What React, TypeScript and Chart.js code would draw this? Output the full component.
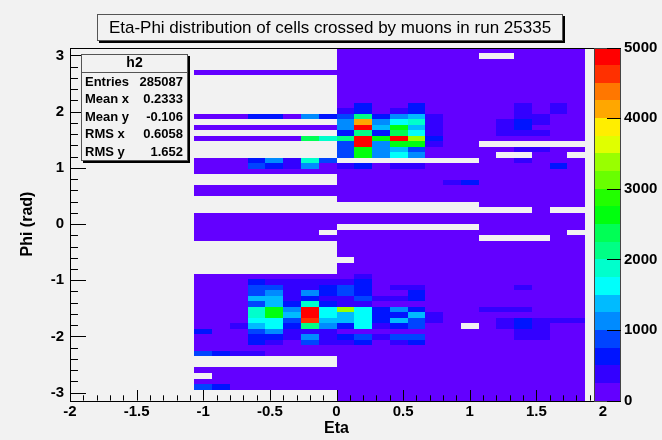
import { useEffect, useRef } from "react";
import { Chart, registerables } from "chart.js";

Chart.register(...registerables);

// ---------------- data ----------------
const TITLE = "Eta-Phi distribution of cells crossed by muons in run 25335";
const X_TITLE = "Eta";
const Y_TITLE = "Phi (rad)";
const ETA_MIN = -2;
const ETA_MAX = 2;
const PHI_MIN = -Math.PI;
const PHI_MAX = Math.PI;
const N_ETA_BINS = 30;
const N_PHI_BINS = 64;
const FIRST_ETA_BIN = 7; // eta bin of the first character of each row
const Z_MAX = 5000;
const Z_STEP = 250; // counts per colour contour
const X_TICK_STEP = 0.5;
const Y_TICK_STEP = 1;
const Z_TICK_STEP = 1000;

const STAT_NAME = "h2";
const STAT_LABELS = ["Entries", "Mean x", "Mean y", "RMS x", "RMS y"];
const STAT_VALUES = ["285087", "0.2333", "-0.106", "0.6058", "1.652"];

// one string per phi bin, from phi = +pi (top) down to phi = -pi (bottom)
// each char = contour level of the cell content (0..9, a..j), '.' = empty cell
const CELL_ROWS = [
  "........00000000000000",
  "........00000000..0000",
  "........00000000000000",
  "........00000000000000",
  "0000000000000000000000",
  "........00000000000000",
  "........00000000000000",
  "........00000000000000",
  "........00000000000000",
  "........00000000000000",
  "........02002000001010",
  "........12012000001010",
  "0002204238245100001100",
  "........4g467100012100",
  "000000004j5a5100012000",
  "........28296100011100",
  "000000978jajd200000000",
  "........3j4aa100......",
  "........3a453000001100",
  "........3a4640000..00.",
  "00024173........001000",
  "0003214012011000000020",
  "0000000000000000000000",
  "........00000000000000",
  "........00000012000000",
  "0000000000000000000000",
  "0000000000000000000000",
  "........00000000000000",
  "................000000",
  "...................0..",
  "0000000000000000000000",
  "0000000000000000000000",
  "00000000........000000",
  "0000000.0000000000000.",
  "0000000000000000....00",
  "........00000000000000",
  "........00000000000000",
  "........00000000000000",
  ".........0000000000000",
  "........00000000000000",
  "........00000000000000",
  "0000000001000000000000",
  "0002111112000000000000",
  "0003311232011000001000",
  "0003414232002000000000",
  "0005512113112000000000",
  "0003527211000000000000",
  "0007a4j6d6242000111000",
  "0007a5j656225100000000",
  "000663i556253100012111",
  "001562842612300.012100",
  "2003411100000000001100",
  "0002214123133000001100",
  "0002103112012000000000",
  "0000000000000000000000",
  "3211000000000000000000",
  "........00000000000000",
  "........00000000000000",
  "0000000000000000000000",
  ".000000000000000000000",
  "0000000000000000000000",
  "3200000000000000000000",
  "........00000000000000",
  "........00000000000000",
];

// ---------------- style ----------------
const LEVEL_CHARS = "0123456789abcdefghij";
const PALETTE = [
  "#6300ff", "#3300ff", "#0014ff", "#0044ff", "#008bff",
  "#00bbff", "#00fffb", "#00ffcc", "#00ff85", "#00ff55",
  "#00ff0e", "#22ff00", "#69ff00", "#99ff00", "#e0ff00",
  "#ffee00", "#ffa700", "#ff7700", "#ff3000", "#ff0000",
];
const BG = "#f2f2f2";
const FONT = "'Liberation Sans', Arial, Helvetica, sans-serif";

type Cell = { x0: number; x1: number; y0: number; y1: number; count: number };

function buildCells(): Cell[] {
  const etaW = (ETA_MAX - ETA_MIN) / N_ETA_BINS;
  const phiW = (PHI_MAX - PHI_MIN) / N_PHI_BINS;
  const cells: Cell[] = [];
  CELL_ROWS.forEach((row, k) => {
    const phiBin = N_PHI_BINS - 1 - k;
    for (let c = 0; c < row.length; c++) {
      const level = LEVEL_CHARS.indexOf(row[c]);
      if (level < 0) continue;
      const etaBin = FIRST_ETA_BIN + c;
      cells.push({
        x0: ETA_MIN + etaBin * etaW,
        x1: ETA_MIN + (etaBin + 1) * etaW,
        y0: PHI_MIN + phiBin * phiW,
        y1: PHI_MIN + (phiBin + 1) * phiW,
        count: level * Z_STEP + Z_STEP / 2,
      });
    }
  });
  return cells;
}

const CELLS = buildCells();

function shadowBox(ctx: CanvasRenderingContext2D, x: number, y: number, w: number, h: number) {
  ctx.fillStyle = "#000";
  ctx.fillRect(x + 2, y + 2, w, h);
  ctx.fillStyle = BG;
  ctx.fillRect(x, y, w, h);
  ctx.strokeStyle = "#555";
  ctx.lineWidth = 1;
  ctx.strokeRect(x + 0.5, y + 0.5, w - 1, h - 1);
}

const histPlugin = {
  id: "hist2d",
  beforeDraw(chart: any) {
    const { ctx, width, height } = chart;
    ctx.save();
    ctx.fillStyle = BG;
    ctx.fillRect(0, 0, width, height);
    ctx.restore();
  },
  beforeDatasetsDraw(chart: any) {
    const { ctx } = chart;
    const xs = chart.scales.x;
    const ys = chart.scales.y;
    ctx.save();
    for (const c of CELLS) {
      const px0 = Math.round(xs.getPixelForValue(c.x0));
      const px1 = Math.round(xs.getPixelForValue(c.x1));
      const py0 = Math.round(ys.getPixelForValue(c.y1));
      const py1 = Math.round(ys.getPixelForValue(c.y0));
      const level = Math.min(PALETTE.length - 1, Math.floor(c.count / Z_STEP));
      ctx.fillStyle = PALETTE[level];
      ctx.fillRect(px0, py0, px1 - px0, py1 - py0);
    }
    ctx.restore();
  },
  afterDraw(chart: any) {
    const { ctx, chartArea } = chart;
    const xs = chart.scales.x;
    const ys = chart.scales.y;
    const zs = chart.scales.z;
    const L = chartArea.left, R = chartArea.right, T = chartArea.top, B = chartArea.bottom;
    ctx.save();
    // frame
    ctx.strokeStyle = "#000";
    ctx.lineWidth = 1;
    ctx.strokeRect(Math.round(L) + 0.5, Math.round(T) + 0.5, Math.round(R - L), Math.round(B - T));
    // x ticks
    const xMajLen = 0.03 * (B - T);
    ctx.beginPath();
    for (let i = 0; i <= 40; i++) {
      const v = ETA_MIN + (i * X_TICK_STEP) / 5;
      const isMaj = i % 5 === 0;
      const px = Math.round(xs.getPixelForValue(v)) + 0.5;
      ctx.moveTo(px, B);
      ctx.lineTo(px, B - (isMaj ? xMajLen : xMajLen / 2));
    }
    // y ticks
    const yMajLen = 0.03 * (R - L);
    for (let i = 0; i <= 30; i++) {
      const v = -3 + (i * Y_TICK_STEP) / 5;
      const isMaj = i % 5 === 0;
      const py = Math.round(ys.getPixelForValue(v)) + 0.5;
      ctx.moveTo(L, py);
      ctx.lineTo(L + (isMaj ? yMajLen : yMajLen / 2), py);
    }
    ctx.stroke();

    // palette
    const pL = R - 9, pR = R + 18;
    for (let i = 0; i < PALETTE.length; i++) {
      const y0 = Math.round(zs.getPixelForValue((i + 1) * Z_STEP));
      const y1 = Math.round(zs.getPixelForValue(i * Z_STEP));
      ctx.fillStyle = PALETTE[i];
      ctx.fillRect(pL, y0, pR - pL, y1 - y0);
    }
    ctx.strokeStyle = "#444";
    const zt = Math.round(zs.getPixelForValue(Z_MAX));
    const zb = Math.round(zs.getPixelForValue(0));
    ctx.strokeRect(pL + 0.5, zt + 0.5, pR - pL - 1, zb - zt);
    ctx.beginPath();
    ctx.strokeStyle = "#000";
    for (let v = 0; v <= Z_MAX; v += Z_TICK_STEP) {
      const py = Math.round(zs.getPixelForValue(v)) + 0.5;
      ctx.moveTo(pR, py);
      ctx.lineTo(pR - 14, py);
    }
    ctx.stroke();

    // stats box
    shadowBox(ctx, 81, 54, 107, 107);
    ctx.strokeStyle = "#555";
    ctx.beginPath();
    ctx.moveTo(81, 72.5);
    ctx.lineTo(188, 72.5);
    ctx.stroke();
    ctx.fillStyle = "#000";
    ctx.textBaseline = "middle";
    ctx.font = `bold 14px ${FONT}`;
    ctx.textAlign = "center";
    ctx.fillText(STAT_NAME, 134.5, 63.5);
    ctx.font = `bold 13px ${FONT}`;
    STAT_LABELS.forEach((lab, i) => {
      const y = 82 + i * 17.5;
      ctx.textAlign = "left";
      ctx.fillText(lab, 85, y);
      ctx.textAlign = "right";
      ctx.fillText(STAT_VALUES[i], 183, y);
    });

    // title box
    shadowBox(ctx, 97, 14, 466, 27);
    ctx.fillStyle = "#000";
    ctx.font = `17px ${FONT}`;
    ctx.textAlign = "center";
    ctx.fillText(TITLE, 330, 28);
    ctx.restore();
  },
};

export default function App() {
  const ref = useRef<HTMLCanvasElement>(null);
  useEffect(() => {
    const canvas = ref.current!;
    const tickFont = { family: FONT, size: 15, weight: "bold" as const };
    const titleFont = { family: FONT, size: 16, weight: "bold" as const };
    const plain = (v: any) => String(v);
    const chart: any = new Chart(canvas, {
      type: "scatter",
      data: { datasets: [{ data: [], pointRadius: 0 }] },
      options: {
        animation: false,
        responsive: false,
        maintainAspectRatio: false,
        events: [],
        layout: { padding: { top: 47.5, left: 0, right: 0, bottom: 0 } },
        plugins: { legend: { display: false }, tooltip: { enabled: false } },
        scales: {
          x: {
            type: "linear",
            position: "bottom",
            min: ETA_MIN,
            max: ETA_MAX,
            afterFit: (s: any) => { s.height = 39.4; },
            grid: { display: false, drawTicks: false },
            border: { display: false },
            ticks: { stepSize: X_TICK_STEP, includeBounds: false, color: "#000", font: tickFont, padding: 2, maxRotation: 0, autoSkip: false, callback: plain },
            title: { display: true, text: X_TITLE, color: "#000", font: titleFont, padding: { top: 0, bottom: 2 } },
          },
          y: {
            type: "linear",
            position: "left",
            min: PHI_MIN,
            max: PHI_MAX,
            afterFit: (s: any) => { s.width = 70; },
            grid: { display: false, drawTicks: false },
            border: { display: false },
            ticks: { stepSize: Y_TICK_STEP, includeBounds: false, color: "#000", font: tickFont, padding: 6, autoSkip: false, callback: plain },
            title: { display: true, text: Y_TITLE, color: "#000", font: titleFont, padding: { top: 18, bottom: 0 } },
          },
          z: {
            type: "linear",
            axis: "y",
            position: "right",
            min: 0,
            max: Z_MAX,
            afterFit: (s: any) => { s.width = 59; },
            grid: { display: false, drawTicks: false },
            border: { display: false },
            ticks: { stepSize: Z_TICK_STEP, includeBounds: false, color: "#000", font: tickFont, padding: 21, autoSkip: false, callback: plain },
          },
        },
      } as any,
      plugins: [histPlugin],
    });
    return () => chart.destroy();
  }, []);
  return (
    <div style={{ position: "fixed", left: 0, top: 0, width: 662, height: 440 }}>
      <canvas ref={ref} width={662} height={440} style={{ display: "block" }} />
    </div>
  );
}
